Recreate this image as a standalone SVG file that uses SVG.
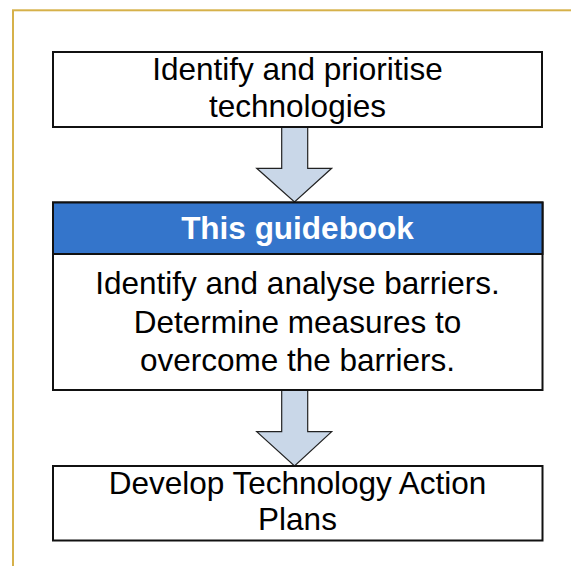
<svg xmlns="http://www.w3.org/2000/svg" width="571" height="566" viewBox="0 0 571 566">
<style>
.box{fill:#fff;stroke:#111;stroke-width:2}
.t{font-family:"Liberation Sans",Arial,sans-serif;font-size:31.5px;fill:#000;text-anchor:middle}
.h{font-family:"Liberation Sans",Arial,sans-serif;font-size:31.5px;font-weight:bold;fill:#fff;text-anchor:middle}
.arr{fill:#C9D7E8;stroke:#222;stroke-width:1.2;stroke-linejoin:miter}
</style>
<rect x="0" y="0" width="571" height="566" fill="#fff"/>
<rect x="13" y="10.3" width="600" height="600" fill="none" stroke="#D6B14A" stroke-width="2"/>
<g id="connectors">
<path class="arr" d="M281.7,127 L307.7,127 L307.7,168.3 L331.7,168.3 L294.5,202 L256.7,168.3 L281.7,168.3 Z"/>
<path class="arr" d="M281.7,390 L307.7,390 L307.7,431.7 L331.7,431.7 L294.5,466 L256.7,431.7 L281.7,431.7 Z"/>
</g>
<g id="node1">
<rect class="box" x="53" y="52" width="489" height="75"/>
<text class="t" x="297.5" y="80">Identify and prioritise</text>
<text class="t" x="297.5" y="117">technologies</text>
</g>
<g id="node2">
<rect class="box" x="53" y="202.5" width="489.5" height="187.5"/>
<rect x="53" y="202.5" width="489.5" height="51.5" fill="#3475CB" stroke="#111" stroke-width="2"/>
<text class="h" x="297.5" y="238.5">This guidebook</text>
<text class="t" x="297.5" y="294">Identify and analyse barriers.</text>
<text class="t" x="297.5" y="332.5">Determine measures to</text>
<text class="t" x="297.5" y="370.5">overcome the barriers.</text>
</g>
<g id="node3">
<rect class="box" x="53" y="466" width="489.5" height="74.5"/>
<text class="t" x="297.5" y="494">Develop Technology Action</text>
<text class="t" x="297.5" y="530">Plans</text>
</g>
</svg>
